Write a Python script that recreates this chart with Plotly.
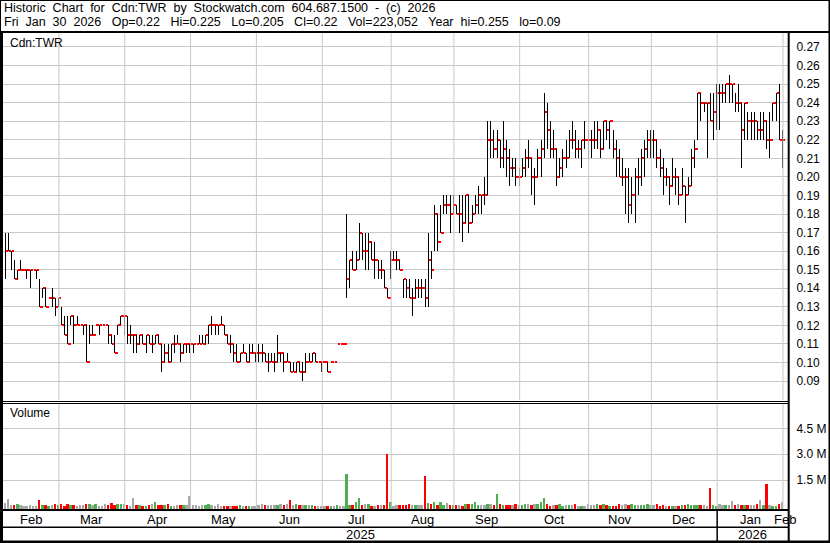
import pandas as pd
import plotly.graph_objects as go

# ---------------- data ----------------
holidays = ["2025-02-17", "2025-04-18", "2025-05-19", "2025-07-01", "2025-08-04",
            "2025-09-01", "2025-10-13", "2025-12-25", "2025-12-26", "2026-01-01"]
dates = [d for d in pd.bdate_range("2025-02-04", "2026-01-30")
         if d.strftime("%Y-%m-%d") not in holidays]

high = [
    # Feb
    .17, .17, .16, .155, .15, .155, .15, .15, .15, .15, .15, .145, .14, .14, .135, .14, .135, .135,
    # Mar
    .13, .125, .125, .125, .125, .125, .12, .12, .12, .12, .12, .12, .12, .12, .12, .12, .115, .115, .12, .125, .125,
    # Apr
    .125, .12, .115, .115, .115, .115, .115, .115, .115, .115, .115, .11, .11, .11, .11, .115, .115, .11, .11, .11, .11,
    # May
    .11, .11, .115, .115, .115, .12, .125, .12, .12, .125, .12, .115, .115, .11, .11, .105, .11, .105, .11, .11, .105,
    # Jun
    .11, .11, .105, .105, .105, .105, .115, .105, .105, .105, .10, .10, .10, .10, .10, .105, .105, .105, .105, .10, .10,
    # Jul
    .10, .10, .10, .10, .11, .11, .11, .18, .155, .16, .16, .175, .17, .17, .17, .165, .165, .155, .155, .15, .14, .16,
    # Aug
    .16, .16, .155, .145, .145, .145, .14, .145, .145, .145, .145, .17, .16, .185, .18, .185, .19, .19, .19, .19,
    # Sep
    .185, .19, .19, .19, .19, .185, .19, .195, .19, .20, .23, .23, .225, .225, .22, .23, .22, .215, .21, .21, .205,
    # Oct
    .21, .215, .22, .21, .205, .215, .22, .245, .24, .23, .225, .215, .21, .215, .22, .225, .23, .225, .22, .22, .23, .225,
    # Nov
    .225, .23, .23, .225, .23, .23, .23, .225, .22, .215, .21, .205, .205, .20, .205, .21, .215, .22, .225, .225,
    # Dec
    .225, .22, .215, .21, .205, .20, .21, .205, .20, .205, .195, .20, .215, .22, .245, .245, .24, .24, .245, .245, .25,
    # Jan
    .25, .25, .25, .255, .25, .245, .25, .24, .24, .235, .235, .235, .23, .235, .235, .23, .235, .24, .245, .25, .225,
]
low = [
    .145, .16, .15, .145, .145, .15, .15, .145, .14, .15, .145, .13, .135, .13, .135, .13, .125, .13,
    .12, .115, .11, .12, .11, .12, .12, .115, .10, .11, .115, .12, .115, .12, .12, .11, .11, .105, .115, .12, .115,
    .11, .11, .105, .105, .11, .11, .105, .11, .105, .11, .11, .095, .10, .10, .10, .105, .11, .10, .105, .105, .105,
    .105, .11, .11, .11, .11, .11, .115, .115, .115, .12, .115, .11, .105, .10, .10, .10, .105, .10, .10, .105, .10,
    .10, .10, .10, .095, .10, .095, .10, .10, .095, .10, .095, .095, .095, .095, .09, .095, .10, .10, .10, .10, .095,
    .10, .095, .10, .10, .11, .11, .11, .135, .14, .15, .15, .155, .155, .15, .15, .155, .145, .145, .145, .14, .135, .145,
    .155, .15, .15, .135, .135, .135, .125, .135, .135, .135, .13, .13, .145, .16, .16, .17, .18, .18, .17, .18,
    .18, .17, .165, .175, .17, .175, .18, .18, .18, .185, .19, .21, .21, .21, .205, .205, .20, .195, .20, .195, .195,
    .20, .20, .205, .19, .185, .20, .20, .21, .215, .21, .21, .195, .20, .20, .205, .21, .215, .21, .21, .205, .215, .21,
    .21, .215, .215, .21, .215, .22, .215, .21, .20, .20, .195, .18, .175, .18, .175, .19, .195, .20, .21, .21,
    .21, .205, .20, .19, .195, .185, .195, .19, .185, .19, .175, .19, .195, .205, .22, .23, .235, .21, .23, .22, .225,
    .225, .24, .24, .24, .24, .235, .235, .205, .22, .22, .22, .22, .22, .22, .22, .215, .21, .23, .23, .22, .205,
]
close = [
    .16, .16, .16, .145, .15, .15, .15, .15, .15, .15, .15, .13, .14, .13, .135, .135, .13, .135,
    .12, .115, .11, .125, .12, .12, .12, .12, .10, .115, .115, .12, .12, .12, .12, .115, .11, .105, .12, .125, .125,
    .115, .115, .115, .11, .115, .11, .115, .11, .11, .115, .11, .10, .105, .10, .11, .11, .11, .105, .11, .11, .11,
    .11, .11, .11, .11, .115, .12, .12, .12, .12, .12, .115, .11, .11, .105, .10, .105, .105, .10, .105, .105, .105,
    .105, .105, .10, .10, .10, .10, .105, .105, .10, .10, .095, .095, .10, .095, .095, .10, .10, .105, .10, .10, .10,
    .10, .095, .10, .10, .11, .11, .11, .145, .155, .15, .155, .17, .16, .16, .165, .155, .155, .15, .15, .14, .135, .155,
    .155, .155, .15, .145, .14, .135, .135, .14, .14, .14, .135, .155, .15, .18, .165, .17, .185, .185, .18, .185,
    .18, .18, .175, .19, .175, .18, .185, .19, .19, .19, .22, .22, .215, .22, .21, .215, .21, .205, .205, .20, .20,
    .205, .21, .21, .20, .20, .21, .215, .235, .225, .215, .215, .20, .205, .21, .21, .22, .22, .215, .215, .22, .22, .22,
    .22, .22, .225, .215, .23, .225, .23, .215, .21, .20, .20, .20, .185, .19, .20, .20, .21, .215, .22, .22,
    .22, .21, .205, .20, .20, .195, .20, .20, .19, .195, .19, .195, .21, .215, .245, .24, .24, .24, .23, .235, .245,
    .245, .245, .25, .25, .25, .24, .24, .225, .24, .23, .23, .23, .225, .225, .23, .22, .22, .24, .245, .22, .22,
]
volume_m = [
    .16, .40, .05, .08, .12, .05, .02, .02, .05, .02, .02, .35, .05, .08, .02, .05, .12, .03,
    .10, .02, .14, .05, .05, .02, .05, .03, .14, .10, .03, .14, .02, .02, .14, .08, .20, .05, .12, .10, .14,
    .03, .02, .46, .08, .05, .02, .02, .03, .12, .22, .08, .05, .03, .12, .02, .02, .03, .05, .03, .05, .58,
    .08, .03, .02, .08, .03, .12, .05, .02, .10, .02, .02, .02, .02, .02, .02, .05, .02, .02, .02, .02, .02,
    .08, .10, .05, .03, .05, .08, .03, .12, .03, .14, .35, .03, .12, .03, .08, .05, .05, .05, .02, .02, .02,
    .02, .02, .02, .02, .08, .02, .02, 1.85, .08, .08, .22, .45, .05, .10, .14, .02, .02, .08, .08, .05, 3.0, .22,
    .02, .08, .05, .08, .05, .10, .05, .05, .03, .03, 1.74, .20, .12, .22, .08, .25, .08, .20, .08, .03,
    .03, .08, .02, .14, .10, .12, .25, .05, .03, .05, .12, .10, .08, .67, .14, .08, .03, .05, .05, .12, .03,
    .03, .10, .14, .05, .10, .14, .25, .45, .10, .02, .05, .08, .12, .02, .08, .05, .05, .10, .02, .02, .02, .12,
    .05, .03, .12, .08, .10, .05, .02, .02, .02, .14, .05, .10, .08, .10, .08, .05, .03, .05, .10, .05,
    .08, .10, .02, .05, .02, .02, .02, .02, .02, .05, .08, .14, .08, .08, .08, .08, .05, .02, 1.06, .08, .02,
    .10, .08, .05, .08, .30, .05, .10, .08, .05, .08, .05, .05, .10, .35, .05, 1.27, .08, .02, .02, .10, .22,
]
price_ticks = [0.09, 0.10, 0.11, 0.12, 0.13, 0.14, 0.15, 0.16, 0.17, 0.18, 0.19,
               0.20, 0.21, 0.22, 0.23, 0.24, 0.25, 0.26, 0.27]
volume_ticks = [1.5, 3.0, 4.5]
volume_tick_text = ["1.5 M", "3.0 M", "4.5 M"]
header_1 = "Historic Chart for Cdn:TWR by Stockwatch.com 604.687.1500 - (c) 2026"
header_2 = "Fri Jan 30 2026  Op=0.22  Hi=0.225  Lo=0.205  Cl=0.22  Vol=223,052  Year hi=0.255  lo=0.09"

N = len(dates)
assert len(high) == len(low) == len(close) == len(volume_m) == N, (N, len(high), len(low), len(close), len(volume_m))

# ---------------- geometry helpers ----------------
W, H = 830, 543
def px(x): return x / W
def py(y): return 1 - y / H

FONT = "Liberation Sans, Arial, sans-serif"
GRID = "#c8c8c8"
X_RANGE = [-0.64, N + 0.8]
P_RANGE = [0.07976, 0.27808]
V_RANGE = [-0.174, 5.91]

# month boundaries and labels
month_starts = [0] + [i for i in range(1, N) if dates[i].month != dates[i - 1].month]
bounds = [k - 0.8 for k in month_starts[1:]] + [N - 0.8]
edges = [X_RANGE[0]] + bounds + [X_RANGE[1]]
month_names = [dates[k].strftime("%b") for k in month_starts] + ["Feb"]
label_pos = [(edges[j] + edges[j + 1]) / 2 for j in range(len(edges) - 1)]

year_split = [b for k, b in zip(month_starts[1:], bounds) if dates[k].year == 2026][0]

# ---------------- traces ----------------
hl_x, hl_y, ck_x, ck_y = [], [], [], []
for i, (h, l, c) in enumerate(zip(high, low, close)):
    if h is None:
        continue
    if h > l:
        hl_x += [i, i, None]
        hl_y += [l, h, None]
    ck_x += [i + 0.15, i + 1.0, None]
    ck_y += [c, c, None]

vol_colors = []
for i in range(N):
    prev = close[i - 1] if i > 0 else None
    cur = close[i]
    if prev is None or cur is None or abs(cur - prev) < 1e-9:
        vol_colors.append("#a8a8a8")
    elif cur > prev:
        vol_colors.append("#4cb050")
    else:
        vol_colors.append("#ff0000")

VOFF = 0.17
fig = go.Figure()
fig.add_trace(go.Scatter(x=ck_x, y=ck_y, mode="lines", line=dict(color="#ff0000", width=2),
                         hoverinfo="skip", xaxis="x", yaxis="y"))
fig.add_trace(go.Scatter(x=hl_x, y=hl_y, mode="lines", line=dict(color="#000000", width=1),
                         hoverinfo="skip", xaxis="x", yaxis="y"))
fig.add_trace(go.Bar(x=list(range(N)), y=[v + VOFF for v in volume_m], base=-VOFF, width=0.62,
                     marker=dict(color=vol_colors, line=dict(width=0)),
                     hoverinfo="skip", xaxis="x2", yaxis="y2"))

xbase = dict(showticklabels=False, showgrid=False, zeroline=False, ticks="", automargin=False,
             range=X_RANGE, domain=[px(3), px(788)])

fig.update_layout(
    width=W, height=H, margin=dict(l=0, r=0, t=0, b=0, autoexpand=False),
    paper_bgcolor="white", plot_bgcolor="white", showlegend=False,
    font=dict(family=FONT, color="#000000"),
    xaxis=dict(anchor="y", **xbase),
    yaxis=dict(domain=[py(400), py(32)], range=P_RANGE, side="right", anchor="x",
               automargin=False,
               tickmode="array", tickvals=price_ticks, ticktext=[f"{v:.2f}" for v in price_ticks],
               showgrid=True, gridcolor=GRID, zeroline=False, ticks="outside", ticklen=5,
               tickcolor="rgba(0,0,0,0)", tickfont=dict(size=12, family=FONT, color="#000")),
    xaxis2=dict(anchor="y2", matches="x", **xbase),
    yaxis2=dict(domain=[py(509), py(404)], range=V_RANGE, side="right", anchor="x2",
                automargin=False,
                tickmode="array", tickvals=volume_ticks, ticktext=volume_tick_text,
                showgrid=True, gridcolor=GRID, zeroline=False, ticks="outside", ticklen=5,
                tickcolor="rgba(0,0,0,0)", tickfont=dict(size=12, family=FONT, color="#000")),
)

# ---------------- month gridlines + frame ----------------
def rect(x0, y0, x1, y1):
    return dict(type="rect", xref="paper", yref="paper", x0=px(x0), x1=px(x1),
                y0=py(y1), y1=py(y0), fillcolor="black", line=dict(width=0), layer="above")

shapes = []
for b in bounds:
    for (ya, yb) in [(400, 33), (509, 404)]:
        shapes.append(dict(type="line", xref="x2", yref="paper", x0=b, x1=b,
                           y0=py(ya), y1=py(yb), line=dict(color=GRID, width=1),
                           layer="above"))
shapes += [
    rect(0, 0, 830, 1),          # top
    rect(0, 31, 830, 33),        # header separator
    rect(0, 0, 1, 31),           # left header
    rect(0, 31, 3, 543),         # left panel
    rect(828.5, 0, 830, 543),    # right outer
    rect(787.7, 31, 789.7, 543), # axis separator
    rect(0, 401, 788, 402),      # double line
    rect(0, 403, 788, 404),
    rect(0, 509, 789, 511),      # volume bottom
    rect(0, 526.5, 789, 528),    # month / year separator
    rect(0, 540.5, 830, 543),    # bottom
    dict(type="line", xref="x2", yref="paper", x0=year_split, x1=year_split,
         y0=py(541), y1=py(510), line=dict(color="black", width=1.5), layer="above"),
]
fig.update_layout(shapes=shapes)

nb = "\u00a0"
def spaced(t):
    return t.replace("  ", nb * 3).replace(" ", nb * 2)

ann = [
    dict(text=spaced(header_1), x=px(1.5), y=py(8), xanchor="left", yanchor="middle",
         font=dict(size=12.5, family=FONT, color="#000")),
    dict(text=spaced(header_2), x=px(1.5), y=py(22), xanchor="left", yanchor="middle",
         font=dict(size=12.5, family=FONT, color="#000")),
    dict(text="Cdn:TWR", x=px(8), y=py(43), xanchor="left", yanchor="middle",
         font=dict(size=12, family=FONT, color="#000")),
    dict(text="Volume", x=px(8), y=py(413), xanchor="left", yanchor="middle",
         font=dict(size=12, family=FONT, color="#000")),
]
for name, pos in zip(month_names, label_pos):
    ann.append(dict(text=name, x=pos, xref="x2", y=py(519), yref="paper",
                    xanchor="center", yanchor="middle",
                    font=dict(size=13, family=FONT, color="#000")))
for txt, a, b in [("2025", X_RANGE[0], year_split), ("2026", year_split, X_RANGE[1])]:
    ann.append(dict(text=txt, x=(a + b) / 2, xref="x2", y=py(534), yref="paper",
                    xanchor="center", yanchor="middle",
                    font=dict(size=13, family=FONT, color="#000")))
for a in ann:
    a.setdefault("xref", "paper")
    a.setdefault("yref", "paper")
    a["showarrow"] = False
fig.update_layout(annotations=ann)

post = (
    "document.documentElement.style.margin='0';"
    "document.body.style.margin='0';document.body.style.padding='0';"
    "var s=document.createElement('style');"
    "s.innerHTML='.scatterlayer .js-line, .bars path{shape-rendering:crispEdges}';"
    "document.head.appendChild(s);"
)
fig.write_html("out.html", post_script=post, config={"displayModeBar": False})
